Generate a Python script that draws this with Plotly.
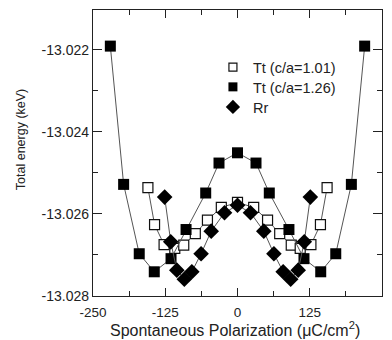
import plotly.graph_objects as go

# Tt (c/a=1.01) open squares
tt101_x = [-155, -143.5, -127, -108.5, -93, -73, -52, -28, 0, 28, 52, 73, 93, 108.5, 127, 143.5, 155]
tt101_y = [-13.02536, -13.02626, -13.02675, -13.02684, -13.02676, -13.02648, -13.02615, -13.02584, -13.02572,
           -13.02584, -13.02615, -13.02648, -13.02676, -13.02684, -13.02675, -13.02626, -13.02536]

# Tt (c/a=1.26) filled squares
tt126_x = [-220, -197, -170, -144, -115, -89, -55, -32, 0, 32, 55, 89, 115, 144, 170, 197, 220]
tt126_y = [-13.02191, -13.02528, -13.02697, -13.02741, -13.02709, -13.02638, -13.02549, -13.02476, -13.02451,
           -13.02476, -13.02549, -13.02638, -13.02709, -13.02741, -13.02697, -13.02528, -13.02191]

# Rr diamonds
rr_x = [-126, -115.5, -105, -92, -79, -63, -45.5, -22.5, 0, 22.5, 45.5, 63, 79, 92, 105, 115.5, 126]
rr_y = [-13.02559, -13.02668, -13.02737, -13.02759, -13.02741, -13.02697, -13.02642, -13.02597, -13.02579,
        -13.02597, -13.02642, -13.02697, -13.02741, -13.02759, -13.02737, -13.02668, -13.02559]

series_names = ["Tt (c/a=1.01)", "Tt (c/a=1.26)", "Rr"]
x_ticks = [-250, -125, 0, 125, 250]
y_ticks = [-13.028, -13.026, -13.024, -13.022]

FONT = "Liberation Sans, Arial, sans-serif"
LINE = "#555555"
INK = "#222222"

fig = go.Figure()

# data traces (lines + markers), no legend entries
fig.add_trace(go.Scatter(
    x=tt101_x, y=tt101_y, mode="lines+markers", showlegend=False,
    line=dict(color=LINE, width=1),
    marker=dict(symbol="square", size=10, color="white", line=dict(color="#111111", width=1.2)),
))
fig.add_trace(go.Scatter(
    x=tt126_x, y=tt126_y, mode="lines+markers", showlegend=False,
    line=dict(color=LINE, width=1),
    marker=dict(symbol="square", size=11, color="#000000", line=dict(width=0)),
))
fig.add_trace(go.Scatter(
    x=rr_x, y=rr_y, mode="lines+markers", showlegend=False,
    line=dict(color=LINE, width=1),
    marker=dict(symbol="diamond", size=12, color="#000000", line=dict(width=0)),
))

# legend entries (markers only), one legend per row for exact spacing
fig.add_trace(go.Scatter(
    x=[None], y=[None], mode="markers", name=series_names[0], legend="legend",
    marker=dict(symbol="square", size=8, color="white", line=dict(color="#111111", width=1.2)),
))
fig.add_trace(go.Scatter(
    x=[None], y=[None], mode="markers", name=series_names[1], legend="legend2",
    marker=dict(symbol="square", size=9, color="#000000", line=dict(width=0)),
))
fig.add_trace(go.Scatter(
    x=[None], y=[None], mode="markers", name=series_names[2], legend="legend3",
    marker=dict(symbol="diamond", size=11, color="#000000", line=dict(width=0)),
))

legend_common = dict(x=0.415, xanchor="left", yanchor="middle",
                     bgcolor="rgba(0,0,0,0)", font=dict(size=14.5, color=INK),
                     itemsizing="trace", itemwidth=30)

fig.update_layout(
    width=392, height=340,
    margin=dict(l=93, r=10, t=10, b=44),
    paper_bgcolor="white", plot_bgcolor="white",
    font=dict(family=FONT, size=13, color=INK),
    showlegend=True,
    legend=dict(y=0.800, **legend_common),
    legend2=dict(y=0.731, **legend_common),
    legend3=dict(y=0.661, **legend_common),
    annotations=[
        dict(text="Total energy (keV)", textangle=-90, xref="paper", yref="paper",
             x=-0.249, y=0.545, xanchor="center", yanchor="middle", showarrow=False,
             font=dict(size=12.5, color=INK)),
        dict(text="Spontaneous Polarization (\u03bcC/cm<sup>2</sup>)", xref="paper", yref="paper",
             x=0.49, y=-0.115, xanchor="center", yanchor="middle", showarrow=False,
             font=dict(size=16, color=INK)),
    ],
)

fig.update_xaxes(
    range=[-250, 250], tickvals=x_ticks, ticktext=[str(v) for v in x_ticks],
    ticks="inside", ticklen=8, tickcolor=INK, tickwidth=1,
    minor=dict(ticks="inside", ticklen=5, tickvals=[-187.5, -62.5, 62.5, 187.5], tickcolor=INK),
    showline=True, linecolor=INK, linewidth=1.2, mirror="allticks",
    showgrid=False, zeroline=False, automargin=False,
    tickfont=dict(size=13.5), ticklabelstandoff=4,
)
fig.update_yaxes(
    range=[-13.028, -13.02103], tickvals=y_ticks, ticktext=["%.3f" % v for v in y_ticks],
    ticks="inside", ticklen=9, tickcolor=INK, tickwidth=1,
    minor=dict(ticks="inside", ticklen=5, tickvals=[-13.027, -13.025, -13.023, -13.021], tickcolor=INK),
    showline=True, linecolor=INK, linewidth=1.2, mirror="allticks",
    showgrid=False, zeroline=False, automargin=False,
    tickfont=dict(size=14),
)

fig.write_html("out.html",
               config={"displayModeBar": False},
               post_script="document.body.style.margin='0';document.body.style.overflow='hidden';")
